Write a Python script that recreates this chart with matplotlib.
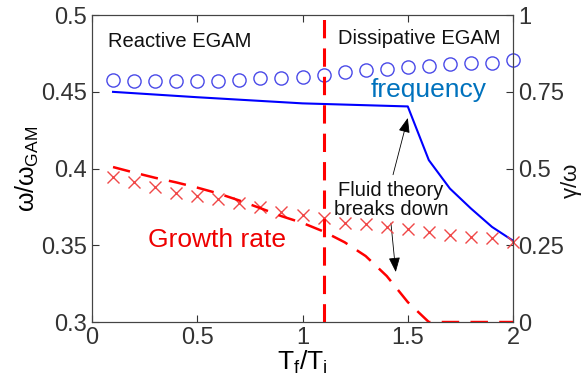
import matplotlib.pyplot as plt

plt.rcParams['font.family'] = ['Liberation Sans', 'DejaVu Sans']
plt.rcParams['mathtext.fontset'] = 'custom'
plt.rcParams['mathtext.rm'] = 'Liberation Sans'
plt.rcParams['mathtext.it'] = 'Liberation Sans'

# simulation points (x = Tf/Ti)
t_sim = [0.1, 0.2, 0.3, 0.4, 0.5, 0.6, 0.7, 0.8, 0.9, 1.0,
         1.1, 1.2, 1.3, 1.4, 1.5, 1.6, 1.7, 1.8, 1.9, 2.0]
freq_sim = [0.458, 0.457, 0.457, 0.457, 0.457, 0.457, 0.458, 0.459, 0.459, 0.460,
            0.461, 0.463, 0.464, 0.465, 0.466, 0.467, 0.468, 0.469, 0.469, 0.471]
growth_sim = [0.472, 0.456, 0.440, 0.420, 0.410, 0.401, 0.388, 0.375, 0.358, 0.349,
              0.339, 0.322, 0.319, 0.309, 0.303, 0.293, 0.283, 0.277, 0.274, 0.261]

# fluid theory
t_freq = [0.1, 0.5, 1.0, 1.5, 1.6, 1.7, 1.8, 1.9, 2.0]
freq_theory = [0.450, 0.4465, 0.4425, 0.4405, 0.4055, 0.387, 0.374, 0.362, 0.353]
t_growth = [0.1, 0.2, 0.3, 0.4, 0.5, 0.6, 0.7, 0.8, 0.9, 1.0,
            1.1, 1.2, 1.3, 1.4, 1.5, 1.6, 1.7, 1.8, 1.9, 2.0]
growth_theory = [0.505, 0.487, 0.470, 0.455, 0.438, 0.419, 0.396, 0.371, 0.345, 0.323,
                 0.295, 0.26, 0.215, 0.15, 0.065, 0.0, 0.0, 0.0, 0.0, 0.0]

t_boundary = 1.1

fig = plt.figure(figsize=(5.87, 3.88), dpi=100)
ax = fig.add_axes([0.1567, 0.170, 0.874 - 0.1567, 0.961 - 0.170])
ax2 = ax.twinx()

ax.plot(t_sim, freq_sim, 'o', mfc='none', mec='#4a4ae8', ms=9.5, mew=1.0, clip_on=False)
ax.plot(t_freq, freq_theory, '-', color='#0000ff', lw=1.5)

ax2.plot(t_sim, growth_sim, 'x', color='#f04848', ms=9, mew=1.0, clip_on=False)
ax2.plot(t_growth, growth_theory, '--', color='#ff0000', lw=1.8, dashes=(7, 4.5))
ax2.axvline(t_boundary, color='#ff0000', lw=2.2, ls='--', dashes=(6, 3.3))

ax.set_xlim(0, 2)
ax.set_ylim(0.3, 0.5)
ax2.set_ylim(0, 1)
ax.set_xticks([0, 0.5, 1, 1.5, 2])
ax.set_xticklabels(['0', '0.5', '1', '1.5', '2'])
ax.set_yticks([0.3, 0.35, 0.4, 0.45, 0.5])
ax.set_yticklabels(['0.3', '0.35', '0.4', '0.45', '0.5'])
ax2.set_yticks([0, 0.25, 0.5, 0.75, 1])
ax2.set_yticklabels(['0', '0.25', '0.5', '0.75', '1'])

ax.tick_params(direction='in', labelsize=17, top=True, length=5, colors='#333333')
ax2.tick_params(direction='in', labelsize=17, length=5, colors='#333333')
for a in (ax, ax2):
    for s in a.spines.values():
        s.set_color('#444444')

ax.set_xlabel(r'T$_\mathrm{f}$/T$_\mathrm{i}$', fontsize=19, labelpad=0)
ax.set_ylabel(r'$\omega$/$\omega_\mathrm{GAM}$', fontsize=18)
ax.yaxis.set_label_coords(-0.12, 0.5)
ax2.text(1.14, 0.459, r'$\gamma$/$\omega$', fontsize=16, rotation=90,
         ha='center', va='center', transform=ax2.transAxes, color='#111111')

ax.text(0.076, 0.483, 'Reactive EGAM', fontsize=14.5, va='center', color='#111111')
ax.text(1.167, 0.485, 'Dissipative EGAM', fontsize=14.5, va='center', color='#111111')
ax.text(1.324, 0.451, 'frequency', fontsize=19, va='center', color='#0072bd')
ax.text(0.267, 0.3534, 'Growth rate', fontsize=19, va='center', color='#ee0000')
ax.text(1.42, 0.3795, 'Fluid theory\nbreaks down', fontsize=14.5, ha='center', va='center',
        color='#111111', linespacing=1.0)

arrow = dict(arrowstyle='-|>,head_length=0.9,head_width=0.35', color='black', lw=0.6,
             shrinkA=0, shrinkB=0)
ax.annotate('', xy=(1.5, 0.433), xytext=(1.43, 0.396), arrowprops=arrow)
ax.annotate('', xy=(1.443, 0.3326), xytext=(1.42, 0.3645), arrowprops=arrow)

fig.savefig('out.png', dpi=100)
